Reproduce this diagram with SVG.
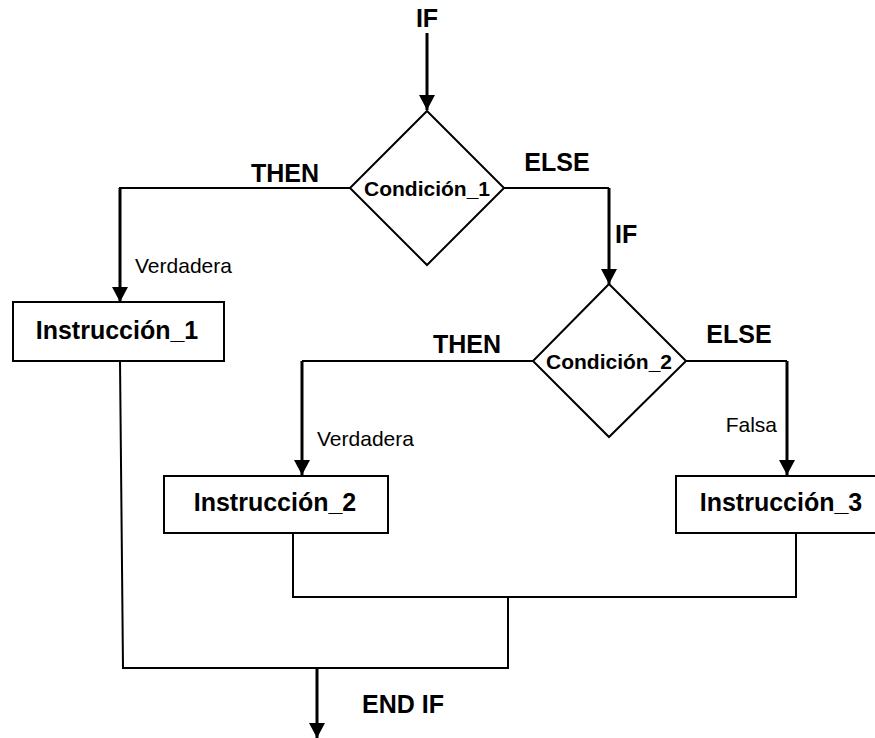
<svg xmlns="http://www.w3.org/2000/svg" width="875" height="738" viewBox="0 0 875 738">
<defs>
<style>
.b{font-family:"Liberation Sans",Arial,sans-serif;font-weight:bold;fill:#000}
.lbl{font-size:25px}
.box{font-size:25px}
.cond{font-size:21px}
.r{font-family:"Liberation Sans",Arial,sans-serif;font-size:21px;fill:#000}
.shape{fill:#fff;stroke:#000;stroke-width:2}
.ln{fill:none;stroke:#000;stroke-width:2}
.ar{fill:none;stroke:#000;stroke-width:3}
</style>
<marker id="ah" markerUnits="userSpaceOnUse" markerWidth="16" markerHeight="16" viewBox="0 0 16 16" refX="15" refY="8" orient="auto">
<path d="M0,0 L15,8 L0,16 Z" fill="#000"/>
</marker>
</defs>
<g id="connectors">
<line class="ar" x1="427" y1="33" x2="427" y2="110" marker-end="url(#ah)"/>
<polyline class="ln" points="350,188 120,188 120,280"/>
<line class="ar" x1="120" y1="188" x2="120" y2="302" marker-end="url(#ah)"/>
<polyline class="ln" points="503,188 609,188"/>
<line class="ar" x1="609" y1="188" x2="609" y2="284" marker-end="url(#ah)"/>
<polyline class="ln" points="533,361 302,361"/>
<line class="ar" x1="302" y1="361" x2="302" y2="475" marker-end="url(#ah)"/>
<polyline class="ln" points="686,361 787,361"/>
<line class="ar" x1="787" y1="361" x2="787" y2="475" marker-end="url(#ah)"/>
<polyline class="ln" points="293,533 293,597 796,597 796,533"/>
<polyline class="ln" points="508,597 508,668 123,668 120,361"/>
<line class="ar" x1="317" y1="668" x2="317" y2="738" marker-end="url(#ah)"/>
</g>
<g id="labels">
<text class="b lbl" x="427" y="27" text-anchor="middle">IF</text>
<text class="b lbl" x="285" y="182" text-anchor="middle">THEN</text>
<text class="b lbl" x="557" y="171" text-anchor="middle">ELSE</text>
<text class="b lbl" x="615" y="243">IF</text>
<text class="b lbl" x="467" y="353" text-anchor="middle">THEN</text>
<text class="b lbl" x="739" y="343" text-anchor="middle">ELSE</text>
<text class="b lbl" x="403" y="713" text-anchor="middle">END IF</text>
<text class="r" x="135" y="273">Verdadera</text>
<text class="r" x="317" y="446">Verdadera</text>
<text class="r" x="777" y="432" text-anchor="end">Falsa</text>
</g>
<g id="cond1">
<polygon class="shape" points="427,111 504,188 427,265 350,188"/>
<text class="b cond" x="427" y="196" text-anchor="middle">Condición_1</text>
</g>
<g id="cond2">
<polygon class="shape" points="609,284 686,361 609,437 533,361"/>
<text class="b cond" x="609" y="369" text-anchor="middle">Condición_2</text>
</g>
<g id="instr1">
<rect class="shape" x="13" y="302" width="211" height="59"/>
<text class="b box" x="117" y="339" text-anchor="middle">Instrucción_1</text>
</g>
<g id="instr2">
<rect class="shape" x="164" y="476" width="224" height="57"/>
<text class="b box" x="275" y="511" text-anchor="middle">Instrucción_2</text>
</g>
<g id="instr3">
<rect class="shape" x="676" y="476" width="210" height="57"/>
<text class="b box" x="781" y="511" text-anchor="middle">Instrucción_3</text>
</g>
</svg>
